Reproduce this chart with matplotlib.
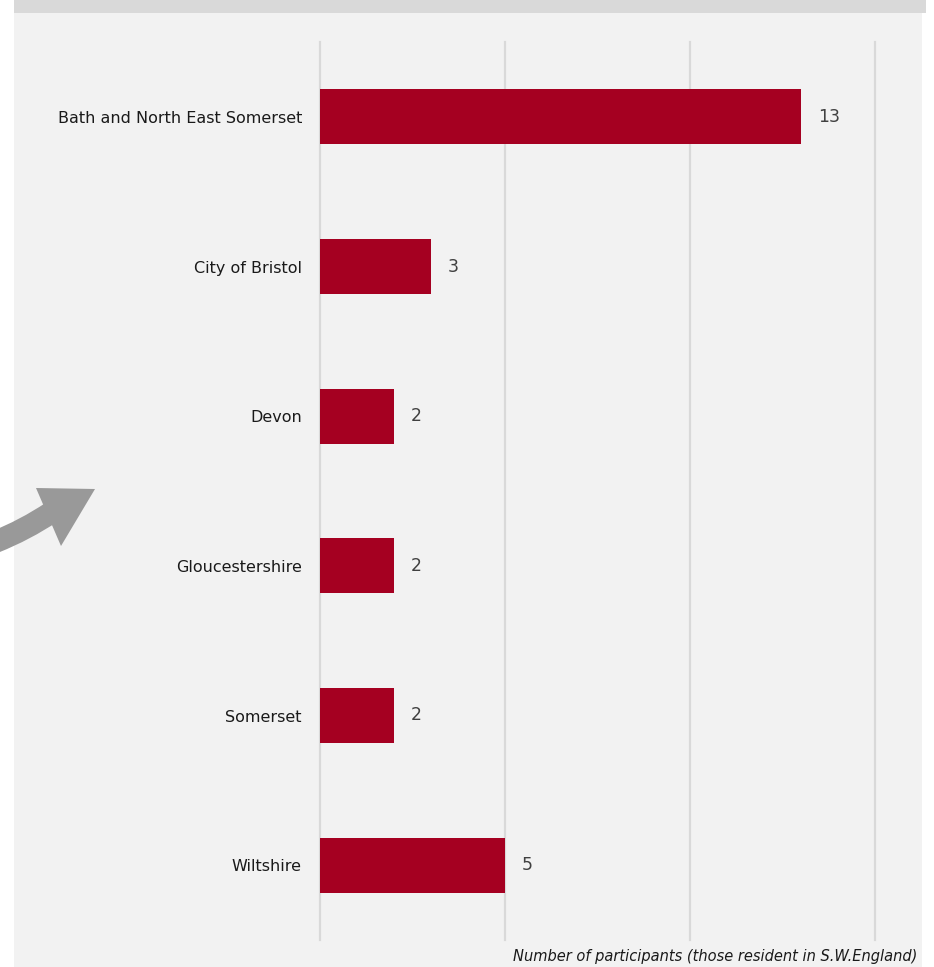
import matplotlib
matplotlib.use("Agg")
import matplotlib.pyplot as plt
from matplotlib.patches import Rectangle, Polygon, PathPatch
from matplotlib.path import Path

# participants by local authority
areas = ["Bath and North East Somerset", "City of Bristol", "Devon",
         "Gloucestershire", "Somerset", "Wiltshire"]
counts = [13, 3, 2, 2, 2, 5]
ticks = [0, 5, 10, 15]

W, H = 934, 967
bar_color = "#a50021"
panel_color = "#f2f2f2"
grid_color = "#d9d9d9"

fig = plt.figure(figsize=(W / 100, H / 100), dpi=100)
fig.patch.set_facecolor("white")

def px(x, y):
    # pixel position (from top-left) -> figure fraction
    return x / W, 1 - y / H

# background panel and header strip
fig.patches.append(Rectangle(px(14, H), (922 - 14) / W, (H - 13) / H,
                             transform=fig.transFigure, facecolor=panel_color,
                             edgecolor="none", zorder=0))
fig.patches.append(Rectangle(px(14, 13), (926 - 14) / W, 13 / H,
                             transform=fig.transFigure, facecolor="#d9d9d9",
                             edgecolor="none", zorder=0))

# curved grey arrow on the left
shaft = Path([px(-5, 542), px(25, 530), px(52, 512)],
             [Path.MOVETO, Path.CURVE3, Path.CURVE3])
fig.patches.append(PathPatch(shaft, transform=fig.transFigure, facecolor="none",
                             edgecolor="#999999", lw=16, capstyle="butt", zorder=1))
fig.patches.append(Polygon([px(36, 488), px(95, 489), px(61, 546)], closed=True,
                           transform=fig.transFigure, facecolor="#999999",
                           edgecolor="none", zorder=1))

left, right = 320 / W, 875 / W
bottom, top = 1 - 940 / H, 1 - 42 / H
ax = fig.add_axes([left, bottom, right - left, top - bottom])
ax.set_facecolor("none")
ax.set_zorder(2)

y = list(range(len(areas)))
ax.barh(y, counts, height=0.367, color=bar_color, zorder=3)
ax.set_xlim(0, 15)
ax.set_ylim(len(areas) - 0.5, -0.5)

ax.set_xticks(ticks)
ax.xaxis.grid(True, color=grid_color, lw=1.6, zorder=0, clip_on=False)
ax.set_axisbelow(True)
ax.tick_params(axis="x", length=0, labelbottom=False)
ax.tick_params(axis="y", length=0, pad=13)
ax.set_yticks(y)
ax.set_yticklabels(areas, fontsize=11.5, color="#1a1a1a")
for s in ax.spines.values():
    s.set_visible(False)

for yi, c in zip(y, counts):
    ax.annotate(str(c), (c, yi), xytext=(17, 0), textcoords="offset pixels",
                va="center", ha="left", fontsize=12.5, color="#404040")

fig.text(917 / W, 1 - 957 / H, "Number of participants (those resident in S.W.England)",
         ha="right", va="center", fontsize=10.5, style="italic", color="#1a1a1a")

fig.savefig("out.png", dpi=100)
